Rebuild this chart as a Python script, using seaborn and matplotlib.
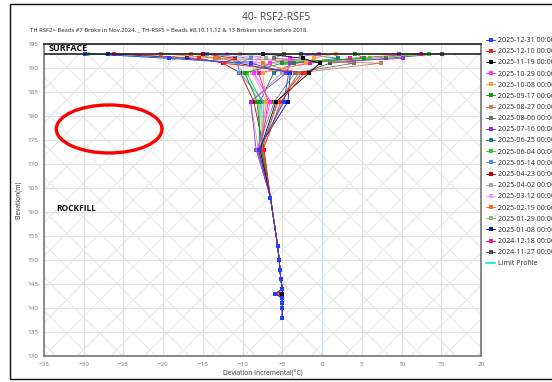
import numpy as np
import pandas as pd
import seaborn as sns
import matplotlib.pyplot as plt
from matplotlib.lines import Line2D
from matplotlib.patches import Ellipse, Rectangle

# reading dates (legend order)
dates = ["2025-12-31", "2025-12-10", "2025-11-19", "2025-10-29", "2025-10-08",
         "2025-09-17", "2025-08-27", "2025-08-06", "2025-07-16", "2025-06-25",
         "2025-06-04", "2025-05-14", "2025-04-23", "2025-04-02", "2025-03-12",
         "2025-02-19", "2025-01-29", "2025-01-08", "2024-12-18", "2024-11-27"]
colors = ["#1f3fff", "#ff2020", "#000000", "#ff33ff", "#ffa040", "#10a010",
          "#c08060", "#707070", "#9b30d0", "#208080", "#30d030", "#4c8cff",
          "#c00000", "#a8a8a8", "#ff99ff", "#ff7020", "#80c880", "#00108c",
          "#ff1493", "#505050"]

# bead elevations (m)
top_elev = [193, 192, 191, 189, 183, 173]
low_elev = [163, 153, 150, 148, 146, 144, 143, 142, 141, 140, 138]

# deviations at the upper beads, one row per reading
top_dev = [
    [-29.9, -19.3, -9.0, -4.2, -4.8, -8.0],
    [-26.2, -15.5, -12.4, -2.2, -5.2, -7.4],
    [-7.4, -2.4, -0.3, -1.6, -5.8, -7.8],
    [-0.4, -4.0, -6.5, -8.6, -6.5, -8.1],
    [1.8, -1.0, -2.0, -7.5, -7.0, -7.9],
    [4.2, 5.3, -5.0, -9.7, -8.2, -7.6],
    [-20.3, -13.0, 7.4, -2.9, -5.5, -7.7],
    [-4.8, -6.0, 4.0, -3.4, -6.0, -8.2],
    [9.7, 10.2, -4.0, -4.5, -9.0, -8.3],
    [-2.6, 2.0, -3.5, -6.1, -7.8, -7.9],
    [13.5, 6.0, -6.5, -9.5, -7.6, -7.5],
    [-14.5, -9.0, -10.6, -10.4, -7.3, -7.6],
    [-15.0, -11.0, -12.5, -10.3, -8.6, -7.3],
    [-10.3, -7.0, -4.5, -5.0, -9.0, -8.0],
    [-12.0, -8.0, -8.5, -8.8, -7.0, -7.8],
    [-16.5, -13.5, -7.5, -3.0, -5.0, -7.5],
    [-29.5, -18.7, -11.0, -9.8, -8.0, -7.9],
    [-26.9, -17.0, -10.6, -4.0, -4.3, -8.1],
    [12.5, 3.5, -1.5, -8.0, -6.8, -7.7],
    [15.1, 8.0, 1.0, -2.5, -5.6, -7.6],
]
# lower beads read almost the same for every date
low_dev = [-6.5, -5.6, -5.4, -5.3, -5.2, -5.0, -5.0, -5.0, -5.0, -5.0, -5.0]
# bead at 143 m: a few readings step left
dev_143 = [-5.9, -5.8, -5.0, -5.0, -5.0, -5.0, -5.7, -5.0, -5.0, -5.0,
           -5.0, -5.0, -5.6, -5.0, -5.0, -5.0, -5.0, -5.9, -5.0, -5.0]

limit_x = [0, 0]
limit_y = [130, 193]

rows = []
for i, d in enumerate(dates):
    lows = list(low_dev)
    lows[low_elev.index(143)] = dev_143[i]
    for e, v in zip(top_elev + low_elev, top_dev[i] + lows):
        rows.append((d, v, e))
df = pd.DataFrame(rows, columns=["date", "dev", "elev"])

sns.set_theme(style="white")
plt.rcParams["font.family"] = ["Open Sans", "DejaVu Sans"]
plt.rcParams["hatch.linewidth"] = 0.8

fig = plt.figure(figsize=(5.52, 3.82), dpi=100)
ax = fig.add_axes([44 / 552, 1 - 356 / 382, 437 / 552, 312 / 382])

ax.axhspan(130, 193, facecolor="white", edgecolor="#eaeaea", hatch="x", lw=0, zorder=0)
ax.set_axisbelow(True)
ax.grid(True, color="#e0e0e0", lw=0.8)

# oldest reading drawn first so the newest sits on top
sns.lineplot(data=df, x="dev", y="elev", hue="date", hue_order=dates[::-1],
             palette=colors[::-1], sort=False, estimator=None, marker="s",
             markersize=2.7, markeredgewidth=0, linewidth=0.6, legend=False, ax=ax)
sns.lineplot(x=limit_x, y=limit_y, color="#22e5f0", linewidth=1.4, ax=ax)
ax.axhline(193, color="#202020", lw=1.2, zorder=5)

ax.set_xlim(-35, 20)
ax.set_ylim(130, 195)
ax.set_xticks(np.arange(-35, 21, 5))
ax.set_yticks(np.arange(130, 196, 5))
ax.tick_params(labelsize=4.5, colors="#777777", length=2, width=0.5, pad=2)
for s in ax.spines.values():
    s.set_color("#808080")
    s.set_linewidth(1.3)
ax.spines["top"].set_color("#303030")
ax.set_xlabel("Deviation Incremental(°C)", fontsize=4.8, color="#333333", labelpad=3)
ax.set_ylabel("Elevation(m)", fontsize=4.8, color="#333333", labelpad=4)

ax.text(-34.4, 194.0, "SURFACE", fontsize=6.5, fontweight="bold", va="center", color="#111111")
ax.text(-33.4, 160.8, "ROCKFILL", fontsize=6, fontweight="bold", va="center", color="#111111")
ax.add_patch(Ellipse((-26.8, 177.3), 13.3, 10.0, fill=False, edgecolor="#ff0000", lw=2.4, zorder=6))

fig.text(0.5, 1 - 17 / 382, "40- RSF2-RSF5", ha="center", va="center", fontsize=7.5, color="#444444")
fig.text(30 / 552, 1 - 30 / 382,
         "TH RSF2= Beads #7 Broke in Nov.2024. _ TH-RSF5 = Beads #8,10,11,12 & 13 Broken since before 2018.",
         ha="left", va="center", fontsize=4.2, color="#222222")

handles = [Line2D([], [], color=c, marker="s", markersize=2.7, markeredgewidth=0, lw=0.7)
           for c in colors]
handles.append(Line2D([], [], color="#22e5f0", lw=1.4))
labels = [d + " 00:00" for d in dates] + ["Limit Profile"]
fig.legend(handles, labels, loc="upper left", bbox_to_anchor=(486 / 552, 1 - 37 / 382),
           frameon=False, fontsize=5, labelspacing=0.6, handlelength=1.3,
           handletextpad=0.5, borderaxespad=0, borderpad=0)

fig.patches.append(Rectangle((10 / 552, 3 / 382), 600 / 552, 375 / 382, transform=fig.transFigure,
                             fill=False, edgecolor="#111111", lw=1.0))

fig.savefig("out.png", dpi=100)
